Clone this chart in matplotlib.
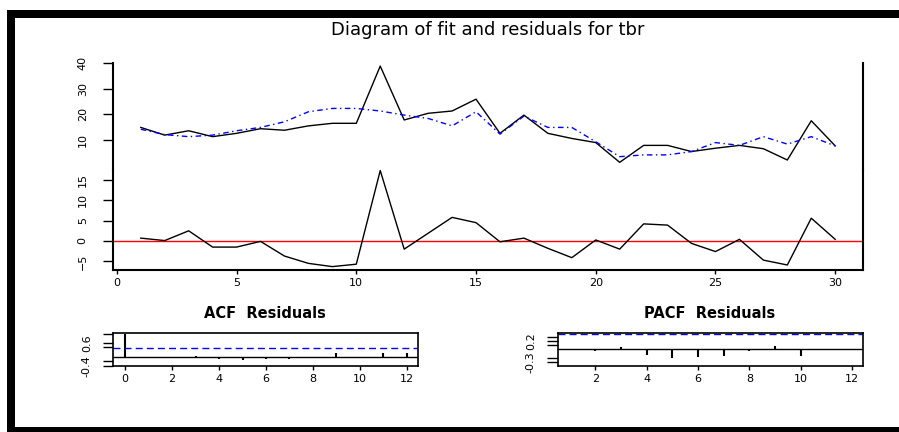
import numpy as np
import matplotlib
matplotlib.use("Agg")
import matplotlib.pyplot as plt
from matplotlib.patches import Rectangle

plt.rcParams['font.family'] = ['DejaVu Sans']

# -------------------------------------
# data
t = list(range(1, 31))
tbr = [14.9, 11.9, 13.6, 11.3, 12.6, 14.4, 13.8, 15.5, 16.5, 16.5,
       38.8, 17.8, 20.4, 21.3, 25.9, 12.6, 19.7, 12.6, 10.6, 9.0,
       1.3, 7.9, 7.9, 5.5, 6.8, 7.9, 6.6, 2.2, 17.5, 7.7]
fitted = [14.2, 12.1, 11.3, 11.9, 13.6, 14.9, 17.1, 21.0, 22.3, 22.3,
          21.3, 19.7, 18.4, 15.5, 21.0, 12.3, 19.3, 14.9, 14.9, 9.3,
          3.5, 4.2, 4.2, 5.5, 9.0, 7.9, 11.3, 8.4, 11.3, 7.7]
resid = [0.7, 0.1, 2.5, -1.5, -1.5, -0.1, -3.7, -5.5, -6.3, -5.7,
         17.3, -2.0, 1.9, 5.8, 4.5, -0.2, 0.7, -1.8, -4.1, 0.25,
         -2.0, 4.2, 3.9, -0.6, -2.6, 0.4, -4.7, -5.9, 5.6, 0.4]

acf_lags = list(range(0, 13))
acf_vals = [1.0, 0.0, -0.04, 0.04, -0.1, -0.17, -0.1, -0.1, 0.0, 0.17,
            -0.04, 0.17, 0.17]
pacf_lags = list(range(1, 13))
pacf_vals = [0.0, -0.04, 0.055, -0.12, -0.21, -0.17, -0.15, -0.04, 0.086,
             -0.15, 0.02, 0.0]
conf = 0.365

main_ticks_top = [10, 20, 30, 40]
main_ticks_bot = [-5, 0, 5, 10, 15]
# -------------------------------------

W, H = 899, 432
fig = plt.figure(figsize=(W / 100, H / 100), dpi=100)


def px_axes(x0, y0, x1, y1):
    # axes placed by pixel box (top-left origin)
    return fig.add_axes([x0 / W, 1 - y1 / H, (x1 - x0) / W, (y1 - y0) / H])


# outer frame (left, top, bottom bars)
for (x0, y0, x1, y1) in [(7, 10, 15, 432), (7, 10, W, 18), (7, 427, W, 432)]:
    fig.add_artist(Rectangle((x0 / W, 1 - y1 / H), (x1 - x0) / W, (y1 - y0) / H,
                             transform=fig.transFigure, color='black', lw=0))

fig.text(488 / W, 1 - 30 / H, 'Diagram of fit and residuals for tbr',
         ha='center', va='center', fontsize=13)

xlim = (-0.16, 31.16)
tick_kw = dict(labelsize=8, width=1.0, colors='black')

# upper part: series and fit
ax1 = px_axes(113, 63, 863, 170)
ax1.plot(t, tbr, color='black', lw=1.0)
ax1.plot(t, fitted, color='blue', lw=1.0, linestyle=(0, (4, 2.5, 1, 2.5)))
ax1.set_xlim(xlim)
ax1.set_ylim(-1.69, 40)
ax1.patch.set_alpha(0)
for s in ['top', 'bottom']:
    ax1.spines[s].set_visible(False)
for s in ['left', 'right']:
    ax1.spines[s].set_linewidth(1.5)
ax1.set_xticks([])
ax1.set_yticks(main_ticks_top)
ax1.tick_params(axis='y', length=7.2, pad=11, **tick_kw)
for lab in ax1.get_yticklabels():
    lab.set_rotation(90)
    lab.set_va('center')

# lower part: residuals
ax2 = px_axes(113, 170, 863, 270)
ax2.axhline(0, color='red', lw=1.0)
ax2.plot(t, resid, color='black', lw=1.0, clip_on=False)
ax2.set_xlim(xlim)
ax2.set_ylim(-7.13, 17.44)
ax2.patch.set_alpha(0)
ax2.spines['top'].set_visible(False)
for s in ['left', 'right', 'bottom']:
    ax2.spines[s].set_linewidth(1.5)
ax2.set_yticks(main_ticks_bot)
ax2.set_xticks([0, 5, 10, 15, 20, 25, 30])
ax2.tick_params(axis='y', length=7.2, pad=11, **tick_kw)
ax2.tick_params(axis='x', length=3, pad=3, **tick_kw)
for lab in ax2.get_yticklabels():
    lab.set_rotation(90)
    lab.set_va('center')

# ACF of residuals
ax3 = px_axes(113, 333, 418, 366)
ax3.vlines(acf_lags, 0, acf_vals, color='black', lw=1.5)
ax3.axhline(0, color='black', lw=1.0)
ax3.axhline(conf, color='blue', lw=1.0, linestyle=(0, (5, 3)))
ax3.set_xlim(-0.52, 12.48)
ax3.set_ylim(-0.41, 1.026)
ax3.set_xticks(range(0, 13, 2))
ax3.set_yticks([-0.4, -0.2, 0.4, 0.6, 1.0])
ax3.set_yticklabels(['-0.4', '', '', '0.6', ''])
ax3.tick_params(axis='y', length=7.2, pad=8, **tick_kw)
ax3.tick_params(axis='x', length=3, pad=3, **tick_kw)
for lab in ax3.get_yticklabels():
    lab.set_rotation(90)
    lab.set_va('center')
for s in ax3.spines.values():
    s.set_linewidth(1.2)
fig.text(265 / W, 1 - 313 / H, 'ACF  Residuals', ha='center', va='center',
         fontsize=10.5, fontweight='bold')

# PACF of residuals
ax4 = px_axes(558, 333, 863, 366)
ax4.vlines(pacf_lags, 0, pacf_vals, color='black', lw=1.5)
ax4.axhline(0, color='black', lw=1.0)
ax4.axhline(conf, color='blue', lw=1.0, linestyle=(0, (5, 3)))
ax4.set_xlim(0.55, 12.42)
ax4.set_ylim(-0.39, 0.388)
ax4.set_xticks(range(2, 13, 2))
ax4.set_yticks([-0.3, -0.2, 0.1, 0.2, 0.3])
ax4.set_yticklabels(['-0.3', '', '', '0.2', ''])
ax4.tick_params(axis='y', length=8, pad=8, **tick_kw)
ax4.tick_params(axis='x', length=3, pad=3, **tick_kw)
for lab in ax4.get_yticklabels():
    lab.set_rotation(90)
    lab.set_va('center')
for s in ax4.spines.values():
    s.set_linewidth(1.2)
fig.text(710 / W, 1 - 313 / H, 'PACF  Residuals', ha='center', va='center',
         fontsize=10.5, fontweight='bold')

fig.savefig('out.png', dpi=100)
